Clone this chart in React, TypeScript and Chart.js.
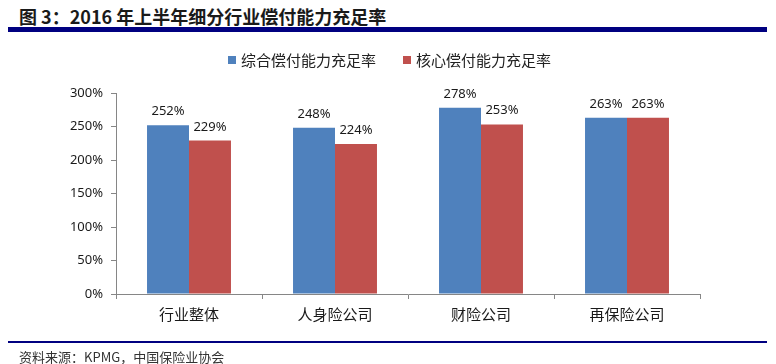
import React, { useEffect, useRef } from "react";
import { Chart, registerables } from "chart.js";

Chart.register(...registerables);

const titleText = "图 3：2016 年上半年细分行业偿付能力充足率";
const sourceText = "资料来源：KPMG，中国保险业协会";
const categories = ["行业整体", "人身险公司", "财险公司", "再保险公司"];
const seriesNames = ["综合偿付能力充足率", "核心偿付能力充足率"];
const comprehensiveRatio = [252, 248, 278, 263];
const coreRatio = [229, 224, 253, 263];
const seriesColors = ["#4F81BD", "#C0504D"];
const yTicks = { min: 0, max: 300, step: 50 };

const CJK = "'Noto Sans CJK SC', 'Noto Sans', sans-serif";
const NUM = "'Noto Sans', 'Noto Sans CJK SC', sans-serif";

const valueLabels = {
  id: "valueLabels",
  afterDatasetsDraw(chart: any) {
    const ctx = chart.ctx;
    ctx.save();
    ctx.font = `13px ${NUM}`;
    ctx.fillStyle = "#1a1a1a";
    ctx.textAlign = "center";
    ctx.textBaseline = "alphabetic";
    chart.data.datasets.forEach((ds: any, di: number) => {
      const meta = chart.getDatasetMeta(di);
      meta.data.forEach((el: any, i: number) => {
        ctx.fillText(`${ds.data[i]}%`, el.x, el.y - 10);
      });
    });
    ctx.restore();
  },
};

export default function App() {
  const ref = useRef<HTMLCanvasElement>(null);
  useEffect(() => {
    if (!ref.current) return;
    const chart = new Chart(ref.current, {
      type: "bar",
      data: {
        labels: categories,
        datasets: [
          { label: seriesNames[0], data: comprehensiveRatio, backgroundColor: seriesColors[0], categoryPercentage: 0.575, barPercentage: 1 },
          { label: seriesNames[1], data: coreRatio, backgroundColor: seriesColors[1], categoryPercentage: 0.575, barPercentage: 1 },
        ],
      },
      options: {
        animation: false,
        responsive: false,
        maintainAspectRatio: false,
        layout: { padding: { top: 93, right: 76, left: 0, bottom: 0 } },
        plugins: { legend: { display: false }, tooltip: { enabled: false } },
        scales: {
          x: {
            grid: { offset: true, drawOnChartArea: false, drawTicks: true, tickLength: 5, color: "#868686" },
            border: { color: "#868686" },
            ticks: { font: { size: 15, family: CJK }, color: "#1a1a1a", padding: 6 },
            afterFit: (s: any) => { s.height = 70; },
          },
          y: {
            min: yTicks.min,
            max: yTicks.max,
            grid: { drawOnChartArea: false, drawTicks: true, tickLength: 5, color: "#868686" },
            border: { color: "#868686" },
            ticks: {
              stepSize: yTicks.step,
              font: { size: 13, family: NUM },
              color: "#1a1a1a",
              padding: 8,
              callback: (v: any) => `${v}%`,
            },
            afterFit: (s: any) => { s.width = 116; },
          },
        },
      },
      plugins: [valueLabels],
    });
    return () => chart.destroy();
  }, []);

  return (
    <div style={{ position: "absolute", left: 0, top: 0, width: 776, height: 364, background: "#fff", overflow: "hidden" }}>
      <div style={{ position: "absolute", left: 19, top: 3, fontFamily: CJK, fontWeight: 700, fontSize: 18, lineHeight: "26px", color: "#1a1a1a", whiteSpace: "nowrap" }}>
        {titleText}
      </div>
      <div style={{ position: "absolute", left: 8, top: 27, width: 759, height: 5, background: "#000080" }} />
      <canvas ref={ref} width={776} height={364} style={{ position: "absolute", left: 0, top: 0 }} />
      <div style={{ position: "absolute", left: 0, top: 50, width: 776, height: 20 }}>
        {seriesNames.map((n, i) => (
          <div key={n} style={{ position: "absolute", left: i === 0 ? 228 : 403, top: 0, display: "flex", alignItems: "center", height: 20, whiteSpace: "nowrap" }}>
            <div style={{ width: 8, height: 8, background: seriesColors[i], marginRight: 5 }} />
            <span style={{ fontFamily: CJK, fontSize: 15, color: "#222", lineHeight: "20px" }}>{n}</span>
          </div>
        ))}
      </div>
      <div style={{ position: "absolute", left: 8, top: 341, width: 759, height: 2, background: "#000080" }} />
      <div style={{ position: "absolute", left: 19, top: 348, fontFamily: CJK, fontSize: 13, lineHeight: "18px", color: "#333", whiteSpace: "nowrap" }}>
        {sourceText}
      </div>
    </div>
  );
}
